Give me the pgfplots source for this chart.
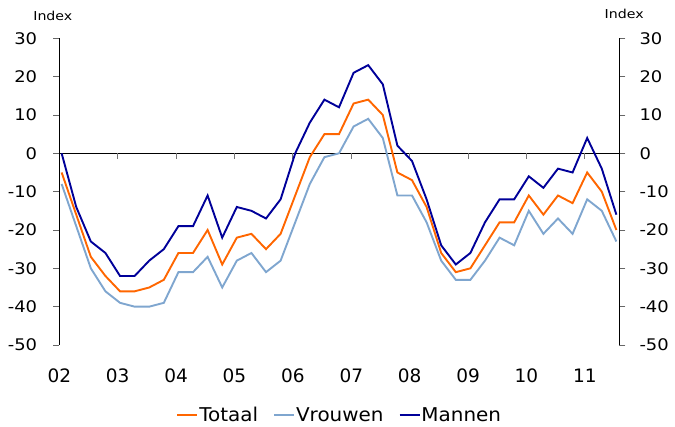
\documentclass[border=0pt]{standalone}
\usepackage{fontspec}
\setmainfont{DejaVu Sans}
\newfontfamily\ytf[FakeStretch=1.12]{DejaVu Sans}
\newfontfamily\lgf[FakeStretch=1.05]{DejaVu Sans}
\newfontfamily\idf[FakeStretch=1.15]{DejaVu Sans}
\usepackage{pgfplots}
\usepackage{pgfplotstable}
\pgfplotsset{compat=1.18}
\definecolor{cTot}{RGB}{255,102,0}
\definecolor{cVr}{RGB}{127,166,207}
\definecolor{cMan}{RGB}{0,0,153}
\pgfplotstableread{
i tot vr man
0 -5 -8 0
1 -16 -19 -14
2 -27 -30 -23
3 -32 -36 -26
4 -36 -39 -32
5 -36 -40 -32
6 -35 -40 -28
7 -33 -39 -25
8 -26 -31 -19
9 -26 -31 -19
10 -20 -27 -11
11 -29 -35 -22
12 -22 -28 -14
13 -21 -26 -15
14 -25 -31 -17
15 -21 -28 -12
16 -11 -18 0
17 -1 -8 8
18 5 -1 14
19 5 0 12
20 13 7 21
21 14 9 23
22 10 4 18
23 -5 -11 2
24 -7 -11 -2
25 -14 -18 -12
26 -26 -28 -24
27 -31 -33 -29
28 -30 -33 -26
29 -24 -28 -18
30 -18 -22 -12
31 -18 -24 -12
32 -11 -15 -6
33 -16 -21 -9
34 -11 -17 -4
35 -13 -21 -5
36 -5 -12 4
37 -10 -15 -4
38 -20 -23 -16
}\data
\begin{document}
\begin{tikzpicture}
\begin{axis}[name=main, scale only axis, width=560pt, height=306.7pt,
  xmin=-0.16, xmax=38.2, ymin=-50, ymax=30,
  axis y line*=left, axis x line*=bottom,
  x axis line style={draw=none},
  y axis line style={line width=0.8pt, black},
  xtick={-0.16,3.84,7.84,11.84,15.84,19.84,23.84,27.84,31.84,35.84},
  xticklabels={02,03,04,05,06,07,08,09,10,11},
  xtick style={draw=none},
  ytick={-50,-40,-30,-20,-10,0,10,20,30},
  yticklabels={-50,-40,-30,-20,-10,0,10,20,30},
  tick align=outside, major tick length=6pt,
  ytick style={black!60, line width=0.8pt},
  yticklabel style={font=\ytf\fontsize{16}{16}\selectfont, inner sep=0pt, anchor=east, xshift=-16pt},
  xticklabel style={font=\fontsize{18.5}{18.5}\selectfont, inner sep=0pt, anchor=center, yshift=-25pt},
  legend columns=3,
  legend style={at={(0.5,0)}, anchor=center, yshift=-70pt, draw=none, fill=none,
    font=\lgf\fontsize{19}{19}\selectfont,
    nodes={inner sep=1pt},
    /tikz/every even column/.append style={column sep=14pt}},
  legend image code/.code={\draw[#1] (0pt,0pt) -- (20pt,0pt);},
  every axis plot/.append style={line width=1.9pt, line join=miter},
]
\draw[line width=1pt, black] (axis cs:-0.16,0) -- (axis cs:38.2,0);
\pgfplotsinvokeforeach{3.84,7.84,11.84,15.84,19.84,23.84,27.84,31.84,35.84}{
  \draw[black!55, line width=0.8pt] (axis cs:#1,0) -- ([yshift=-5.5pt]axis cs:#1,0);
}
\addplot[cTot] table[x=i,y=tot] {\data};
\addlegendentry{Totaal}
\addplot[cVr] table[x=i,y=vr] {\data};
\addlegendentry{Vrouwen}
\addplot[cMan] table[x=i,y=man] {\data};
\addlegendentry{Mannen}
\end{axis}
\begin{axis}[scale only axis, width=560pt, height=306.7pt,
  xmin=-0.16, xmax=38.2, ymin=-50, ymax=30,
  axis y line*=right, axis x line=none,
  y axis line style={line width=0.8pt, black},
  ytick={-50,-40,-30,-20,-10,0,10,20,30},
  yticklabels={-50,-40,-30,-20,-10,0,10,20,30},
  tick align=outside, major tick length=6pt,
  ytick style={black!60, line width=0.8pt},
  yticklabel style={font=\ytf\fontsize{16}{16}\selectfont, inner sep=0pt, anchor=west, xshift=14pt},
]
\addplot[draw=none] coordinates {(0,0)};
\end{axis}
\node[font=\idf\fontsize{12.3}{12.3}\selectfont, inner sep=0pt] at ([xshift=-6.5pt, yshift=22.1pt]main.north west) {Index};
\node[font=\idf\fontsize{12.3}{12.3}\selectfont, inner sep=0pt] at ([xshift=4.9pt, yshift=24.5pt]main.north east) {Index};
\pgfresetboundingbox
\path[use as bounding box] ([xshift=-59.3pt,yshift=-82pt]main.south west) rectangle ++(675pt,427pt);
\end{tikzpicture}
\end{document}
